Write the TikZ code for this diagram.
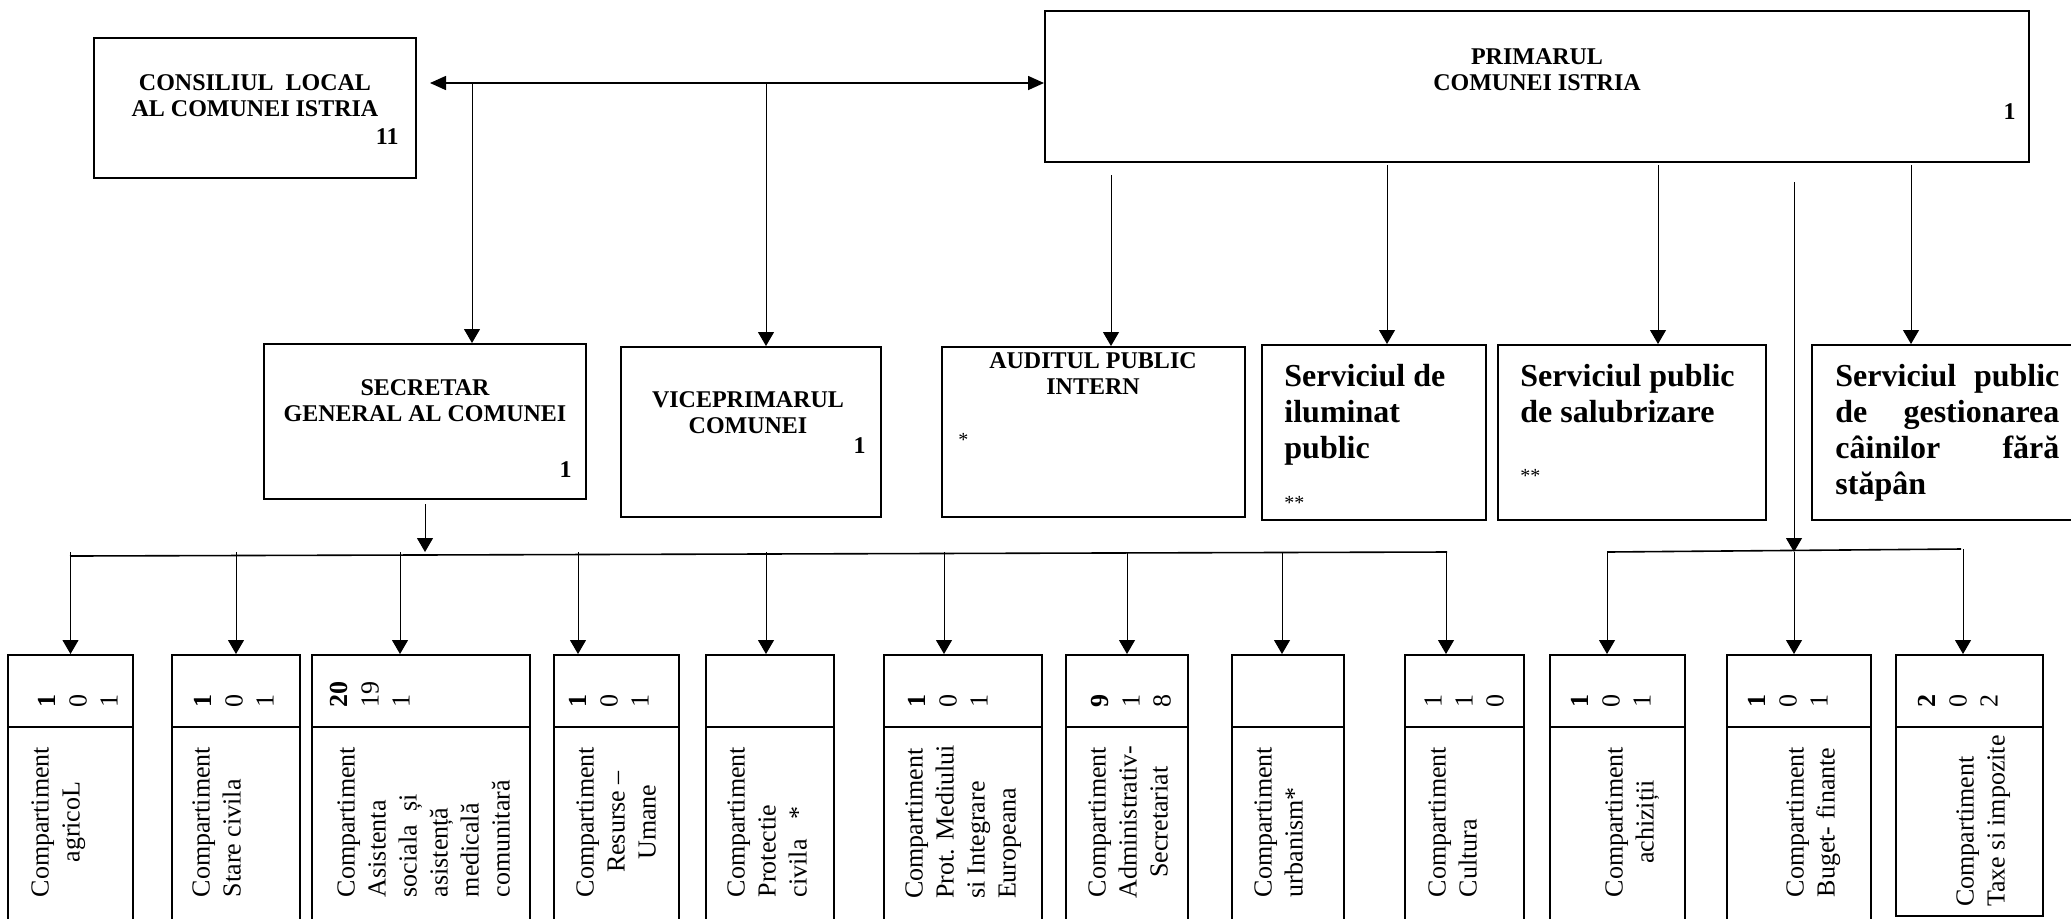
\documentclass[tikz,border=0pt]{standalone}
\usepackage{fontspec}
\setmainfont{Liberation Serif}
\usetikzlibrary{arrows.meta}

\begin{document}
\begin{tikzpicture}[x=0.5pt, y=-0.5pt,
    box/.style={draw, line width=1pt, inner sep=0pt},
    toptext/.style={font=\bfseries\fontsize{12}{13}\selectfont, align=center, inner sep=0pt},
    svctext/.style={font=\bfseries\fontsize{16}{18}\selectfont, align=left, inner sep=0pt, anchor=north west},
    startext/.style={font=\fontsize{10}{12}\selectfont, inner sep=0pt, anchor=west},
    comptext/.style={font=\fontsize{13}{15.5}\selectfont, rotate=90, inner sep=0pt, anchor=north},
    nrtext/.style={font=\fontsize{13}{15.5}\selectfont, rotate=90, inner sep=0pt, anchor=north west, align=left},
    hdr/.style={box, minimum height=36pt},
    body/.style={box, minimum height=99pt},
    arr/.style={-{Triangle[length=7pt,width=8pt]}, line width=0.5pt},
    dbl/.style={{Triangle[length=8pt,width=7pt]}-{Triangle[length=8pt,width=7pt]}, line width=0.8pt},
    bus/.style={line width=0.8pt}]
  \useasboundingbox (0,0) rectangle (2071,918);
  \clip (0,0) rectangle (2071,918);

  \node[box, minimum width=161pt, minimum height=70pt] (consiliu) at (255,108) {};
  \node[toptext] (consiliu-t) at (255,96) {CONSILIUL\ \ LOCAL\\AL COMUNEI ISTRIA};
  \node[toptext, anchor=east] (consiliu-n) at (399,137) {11};

  \node[box, minimum width=492pt, minimum height=75.5pt] (primar) at (1537,86.5) {};
  \node[toptext] (primar-t) at (1537,70) {PRIMARUL\\COMUNEI ISTRIA};
  \node[toptext, anchor=east] (primar-n) at (2016,112) {1};

  \node[box, minimum width=161pt, minimum height=77.5pt] (secretar) at (425,421.5) {};
  \node[toptext] (secretar-t) at (425,401) {SECRETAR\\GENERAL AL COMUNEI};
  \node[toptext, anchor=east] (secretar-n) at (572,470) {1};

  \node[box, minimum width=130pt, minimum height=85pt] (vice) at (751,432) {};
  \node[toptext] (vice-t) at (748,413) {VICEPRIMARUL\\COMUNEI};
  \node[toptext, anchor=east] (vice-n) at (866,446) {1};

  \node[box, minimum width=151.5pt, minimum height=85pt] (audit) at (1093.5,432) {};
  \node[toptext] (audit-t) at (1093,374) {AUDITUL PUBLIC\\INTERN};
  \node[startext] (audit-n) at (958,440) {*};

  \node[box, minimum width=112pt, minimum height=87.5pt] (ilum) at (1374,432.5) {};
  \node[svctext] (ilum-t) at (1284,364) {Serviciul de\\iluminat\\public};
  \node[startext] (ilum-n) at (1284,503) {**};

  \node[box, minimum width=134pt, minimum height=87.5pt] (salub) at (1632,432.5) {};
  \node[svctext] (salub-t) at (1520,364) {Serviciul public\\de salubrizare};
  \node[startext] (salub-n) at (1520,476) {**};

  \node[box, minimum width=144pt, minimum height=87.5pt] (gest) at (1956,432.5) {};
  \node[svctext, text width=112pt] (gest-t) at (1835,364)
    {Serviciul\hfill public\\de\hfill gestionarea\\câinilor\hfill fără\\stăpân};

  \node[hdr, minimum width=62.5pt] (agri) at (70.5,691) {};
  \node[body, minimum width=62.5pt] (agri-b) at (70.5,826) {};
  \node[nrtext] (agri-n) at (38,708) {\textbf{1}\\0\\1};
  \node[comptext, align=center] (agri-t) at (31,822) {Compartiment\\agricoL};

  \node[hdr, minimum width=64pt] (stare) at (236,691) {};
  \node[body, minimum width=64pt] (stare-b) at (236,826) {};
  \node[nrtext] (stare-n) at (194,708) {\textbf{1}\\0\\1};
  \node[comptext, align=left] (stare-t) at (192,822) {Compartiment\\Stare civila};

  \node[hdr, minimum width=109pt] (asist) at (421,691) {};
  \node[body, minimum width=109pt] (asist-b) at (421,826) {};
  \node[nrtext] (asist-n) at (330,708) {\textbf{20}\\19\\1};
  \node[comptext, align=left] (asist-t) at (337,822)
    {Compartiment\\Asistenta\\sociala\ \ și\\asistență\\medicală\\comunitară};

  \node[hdr, minimum width=62.5pt] (resurse) at (616.5,691) {};
  \node[body, minimum width=62.5pt] (resurse-b) at (616.5,826) {};
  \node[nrtext] (resurse-n) at (569,708) {\textbf{1}\\0\\1};
  \node[comptext, align=center] (resurse-t) at (576,822) {Compartiment\\Resurse –\\Umane};

  \node[hdr, minimum width=64pt] (protect) at (770,691) {};
  \node[body, minimum width=64pt] (protect-b) at (770,826) {};
  \node[comptext, align=left] (protect-t) at (727,822) {Compartiment\\Protectie\\civila\ \ \ *};

  \node[hdr, minimum width=79pt] (mediu) at (963,691) {};
  \node[body, minimum width=79pt] (mediu-b) at (963,826) {};
  \node[nrtext] (mediu-n) at (908,708) {\textbf{1}\\0\\1};
  \node[comptext, align=left] (mediu-t) at (905,822)
    {Compartiment\\Prot. Mediului\\si Integrare\\Europeana};

  \node[hdr, minimum width=61pt] (admin) at (1127,691) {};
  \node[body, minimum width=61pt] (admin-b) at (1127,826) {};
  \node[nrtext] (admin-n) at (1091,708) {\textbf{9}\\1\\8};
  \node[comptext, align=center] (admin-t) at (1088,822) {Compartiment\\Administrativ-\\Secretariat};

  \node[hdr, minimum width=56pt] (urban) at (1288,691) {};
  \node[body, minimum width=56pt] (urban-b) at (1288,826) {};
  \node[comptext, align=left] (urban-t) at (1254,822) {Compartiment\\urbanism*};

  \node[hdr, minimum width=59.5pt] (cultura) at (1464.5,691) {};
  \node[body, minimum width=59.5pt] (cultura-b) at (1464.5,826) {};
  \node[nrtext] (cultura-n) at (1424,708) {1\\1\\0};
  \node[comptext, align=left] (cultura-t) at (1428,822) {Compartiment\\Cultura};

  \node[hdr, minimum width=67.5pt] (achiz) at (1617.5,691) {};
  \node[body, minimum width=67.5pt] (achiz-b) at (1617.5,826) {};
  \node[nrtext] (achiz-n) at (1571,708) {\textbf{1}\\0\\1};
  \node[comptext, align=center] (achiz-t) at (1605,822) {Compartiment\\achiziții};

  \node[hdr, minimum width=72pt] (buget) at (1799,691) {};
  \node[body, minimum width=72pt] (buget-b) at (1799,826) {};
  \node[nrtext] (buget-n) at (1748,708) {\textbf{1}\\0\\1};
  \node[comptext, align=left] (buget-t) at (1786,822) {Compartiment\\Buget- finante};

  \node[hdr, minimum width=73.5pt] (taxe) at (1969.5,691) {};
  \node[body, minimum width=73.5pt, minimum height=94.5pt] (taxe-b) at (1969.5,821.5) {};
  \node[nrtext] (taxe-n) at (1918,708) {\textbf{2}\\0\\2};
  \node[comptext, align=left] (taxe-t) at (1956,821) {Compartiment\\Taxe si impozite};

  \coordinate (lnk-w) at (430,83);
  \coordinate (j-sec) at (472,83);
  \coordinate (j-vice) at (766,83);
  \coordinate (p-aud) at (1111,175);
  \coordinate (p-ilum) at (1387,165);
  \coordinate (p-sal) at (1658,165);
  \coordinate (p-comp) at (1794,182);
  \coordinate (p-gest) at (1911,165);
  \coordinate (lbus-w) at (70,556);
  \coordinate (lbus-e) at (1447,552);
  \coordinate (rbus-w) at (1607,552);
  \coordinate (rbus-e) at (1961,549);

  \begin{scope}[arr]
    \draw[dbl] (lnk-w) -- (lnk-w -| primar.west);
    \draw (j-sec) -- (j-sec |- secretar.north);
    \draw (j-vice) -- (j-vice |- vice.north);
    \draw (p-aud) -- (p-aud |- audit.north);
    \draw (p-ilum) -- (p-ilum |- ilum.north);
    \draw (p-sal) -- (p-sal |- salub.north);
    \draw (p-gest) -- (p-gest |- gest.north);
    \draw (p-comp) -- (p-comp |- rbus-w);
    \draw ([yshift=-2pt]secretar.south) -- (secretar.south |- lbus-e);
    \draw[bus, -] (lbus-w) -- (lbus-e);
    \draw[bus, -] (rbus-w) -- (rbus-e);
    \draw (agri.north |- lbus-e) -- (agri.north);
    \draw (stare.north |- lbus-e) -- (stare.north);
    \draw ([xshift=-10.5pt]asist.north |- lbus-e) -- ([xshift=-10.5pt]asist.north);
    \draw ([xshift=-19.25pt]resurse.north |- lbus-e) -- ([xshift=-19.25pt]resurse.north);
    \draw ([xshift=-2pt]protect.north |- lbus-e) -- ([xshift=-2pt]protect.north);
    \draw ([xshift=-9.5pt]mediu.north |- lbus-e) -- ([xshift=-9.5pt]mediu.north);
    \draw (admin.north |- lbus-e) -- (admin.north);
    \draw ([xshift=-3pt]urban.north |- lbus-e) -- ([xshift=-3pt]urban.north);
    \draw ([xshift=-9.25pt]cultura.north |- lbus-e) -- ([xshift=-9.25pt]cultura.north);
    \draw ([xshift=-5.25pt]achiz.north |- rbus-w) -- ([xshift=-5.25pt]achiz.north);
    \draw ([xshift=-2.5pt]buget.north |- rbus-w) -- ([xshift=-2.5pt]buget.north);
    \draw ([xshift=-3.25pt]taxe.north |- rbus-e) -- ([xshift=-3.25pt]taxe.north);
  \end{scope}
\end{tikzpicture}
\end{document}
